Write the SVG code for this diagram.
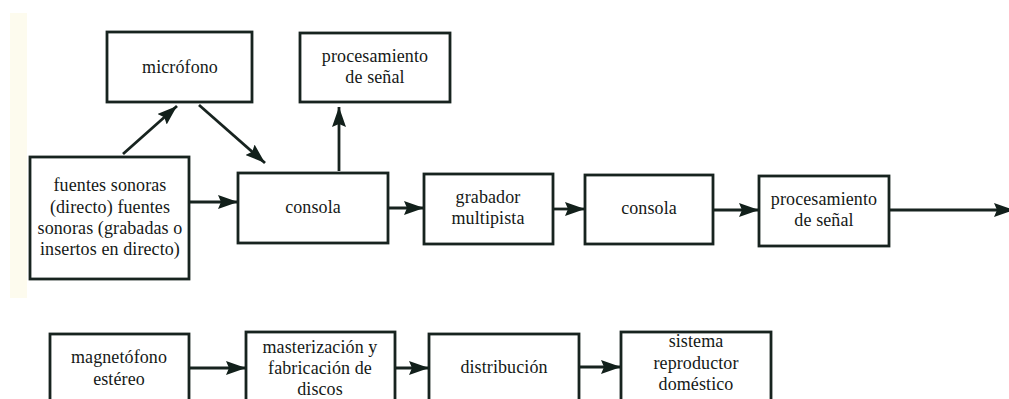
<svg xmlns="http://www.w3.org/2000/svg" width="1009" height="399" viewBox="0 0 1009 399">
<style>
.box{fill:#ffffff;stroke:#17231f;stroke-width:2.8}
.t{font-family:"Liberation Serif","Times New Roman",serif;font-size:18px;fill:#151917;text-anchor:middle;letter-spacing:0.1px}
.c{stroke:#17231f;stroke-width:2.8;fill:none;marker-end:url(#ah)}
</style>
<defs>
<marker id="ah" viewBox="0 0 20 14" refX="20" refY="7" markerWidth="20" markerHeight="14" markerUnits="userSpaceOnUse" orient="auto">
<path d="M0,0 L20,7 L0,14 L3,7 Z" fill="#12201b"/>
</marker>
</defs>
<rect width="1009" height="399" fill="#ffffff"/>
<rect x="10" y="13" width="17" height="285" fill="#fdfbee"/>
<g id="connectors">
<line class="c" x1="123" y1="154" x2="177" y2="106"/>
<line class="c" x1="199" y1="105" x2="265" y2="163"/>
<line class="c" x1="339" y1="171" x2="339" y2="107"/>
<line class="c" x1="189" y1="202" x2="238" y2="202"/>
<line class="c" x1="388" y1="208" x2="424" y2="208"/>
<line class="c" x1="553" y1="209" x2="585" y2="209"/>
<line class="c" x1="713" y1="210" x2="759" y2="210"/>
<line class="c" x1="889" y1="210" x2="1014" y2="210"/>
<line class="c" x1="137" y1="368" x2="246" y2="368"/>
<line class="c" x1="395" y1="368" x2="429" y2="368"/>
<line class="c" x1="579" y1="367" x2="621" y2="367"/>
</g>
<g id="microfono">
<rect class="box" x="107" y="32" width="145" height="70"/>
<text class="t" x="180" y="73">micrófono</text>
</g>
<g id="procesamiento1">
<rect class="box" x="300" y="33" width="150" height="69"/>
<text class="t" x="375" y="62">procesamiento</text>
<text class="t" x="375" y="83">de señal</text>
</g>
<g id="fuentes">
<rect class="box" x="30" y="157" width="159" height="122"/>
<text class="t" x="110" y="191">fuentes sonoras</text>
<text class="t" x="110" y="213">(directo) fuentes</text>
<text class="t" x="110" y="234">sonoras (grabadas o</text>
<text class="t" x="110" y="255">insertos en directo)</text>
</g>
<g id="consola1">
<rect class="box" x="238" y="173" width="150" height="70"/>
<text class="t" x="313" y="213">consola</text>
</g>
<g id="grabador">
<rect class="box" x="424" y="174" width="129" height="70"/>
<text class="t" x="488" y="203">grabador</text>
<text class="t" x="488" y="224">multipista</text>
</g>
<g id="consola2">
<rect class="box" x="585" y="175" width="128" height="69"/>
<text class="t" x="649" y="214">consola</text>
</g>
<g id="procesamiento2">
<rect class="box" x="759" y="176" width="130" height="70"/>
<text class="t" x="824" y="205">procesamiento</text>
<text class="t" x="824" y="226">de señal</text>
</g>
<g id="magnetofono">
<rect class="box" x="50" y="334" width="139" height="80"/>
<text class="t" x="119" y="363">magnetófono</text>
<text class="t" x="119" y="385">estéreo</text>
</g>
<g id="masterizacion">
<rect class="box" x="246" y="332" width="149" height="82"/>
<text class="t" x="320" y="353">masterización y</text>
<text class="t" x="320" y="374">fabricación de</text>
<text class="t" x="320" y="395">discos</text>
</g>
<g id="distribucion">
<rect class="box" x="429" y="334" width="150" height="80"/>
<text class="t" x="504" y="373">distribución</text>
</g>
<g id="sistema">
<rect class="box" x="621" y="332" width="150" height="82"/>
<text class="t" x="696" y="347">sistema</text>
<text class="t" x="696" y="369">reproductor</text>
<text class="t" x="696" y="390">doméstico</text>
</g>
</svg>
